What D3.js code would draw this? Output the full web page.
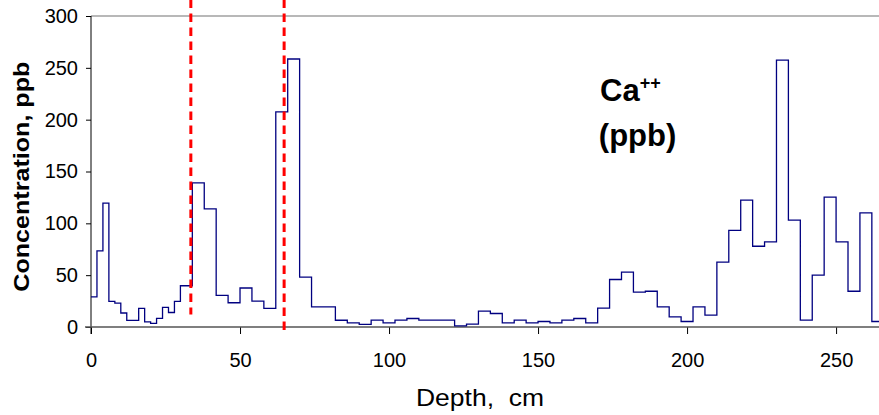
<!DOCTYPE html>
<html>
<head>
<meta charset="utf-8">
<script src="https://cdn.jsdelivr.net/npm/d3@7"></script>
<style>
  body { margin: 0; background: #fff; }
  svg { display: block; font-family: Arial, "Liberation Sans", sans-serif; }
</style>
</head>
<body>
<div id="chart"></div>
<script>
// top of each sample interval, cm
const depthTop = [0, 2, 4, 6, 8, 10, 12, 16, 18, 20, 22, 24, 26, 28, 30, 34, 38, 42, 46, 50,
  54, 58, 62, 66, 70, 74, 82, 86, 90, 94, 98, 102, 106, 110, 122, 126, 130, 134, 138, 142,
  146, 150, 154, 158, 162, 166, 170, 174, 178, 182, 186, 190, 194, 198, 202, 206, 210, 214,
  218, 222, 226, 230, 234, 238, 242, 246, 250, 254, 258, 262];
const depthEnd = 264.4;
// Ca++ concentration, ppb
const calcium = [29, 73.5, 119.5, 24.7, 23, 13.5, 6.4, 18, 5, 3.5, 8.3, 19, 14, 24.7, 39.8,
  139, 114, 30.5, 23.4, 37.6, 25, 18, 207.5, 258.5, 48.2, 19.4, 6.5, 4, 2.5, 6.6, 4, 6.6,
  8.2, 6.6, 1.1, 2.7, 15.3, 13, 4, 6.6, 4, 5.3, 4, 6.6, 8.2, 4, 18.2, 45.8, 52.9, 33.6,
  34.5, 19.5, 9.8, 5.3, 19.5, 11.4, 62.5, 93.3, 122.3, 77.9, 82.2, 257.5, 103, 6.6, 50,
  125.2, 82.2, 34.5, 110.1, 5.3];
const xTicks = [0, 50, 100, 150, 200, 250];
const yTicks = [0, 50, 100, 150, 200, 250, 300];
// red dashed markers: depth and vertical extent (ppb)
const markerDepth = [33.5, 64.8];
const markerLow = [12, -5];
const markerHigh = 316;

const width = 879, height = 415;
const margin = { top: 16, right: 0, bottom: 88, left: 91 };
const iwidth = width - margin.left - margin.right;
const iheight = height - margin.top - margin.bottom;

const svg = d3.select("#chart").append("svg")
  .attr("width", width)
  .attr("height", height);

const g = svg.append("g")
  .attr("transform", `translate(${margin.left},${margin.top})`);

const x = d3.scaleLinear().domain([0, depthEnd]).range([0, iwidth]);
const y = d3.scaleLinear().domain([0, 300]).range([iheight, 0]);

// top border
g.append("line")
  .attr("x1", 0).attr("x2", iwidth)
  .attr("y1", y(300)).attr("y2", y(300))
  .attr("stroke", "#a0a0a0").attr("stroke-width", 1.5);

// y axis
const yAxis = g.append("g")
  .call(d3.axisLeft(y).tickValues(yTicks).tickSize(5).tickPadding(8).tickSizeOuter(0));
yAxis.select(".domain").remove();
yAxis.append("line")
  .attr("x1", 0).attr("x2", 0)
  .attr("y1", y(300)).attr("y2", iheight + 7)
  .attr("stroke", "#000");
yAxis.selectAll("text").attr("font-size", 20).attr("fill", "#000")
  .attr("font-family", "Arial, 'Liberation Sans', sans-serif");

// x axis
const xAxis = g.append("g")
  .attr("transform", `translate(0,${iheight})`)
  .call(d3.axisBottom(x).tickValues(xTicks).tickSize(7).tickPadding(19).tickSizeOuter(0));
xAxis.select(".domain").remove();
xAxis.append("line")
  .attr("x1", -6).attr("x2", iwidth)
  .attr("stroke", "#555").attr("stroke-width", 1.5);
xAxis.selectAll("text").attr("font-size", 20).attr("fill", "#000")
  .attr("font-family", "Arial, 'Liberation Sans', sans-serif");

// step line
const pts = depthTop.map((d, i) => [d, calcium[i]]);
pts.push([depthEnd, calcium[calcium.length - 1]]);

const line = d3.line()
  .x(d => x(d[0]))
  .y(d => y(d[1]))
  .curve(d3.curveStepAfter);

g.append("path")
  .datum(pts)
  .attr("fill", "none")
  .attr("stroke", "#000080")
  .attr("stroke-width", 1.3)
  .attr("d", line);

// red dashed markers
g.selectAll(".marker")
  .data(markerDepth)
  .enter()
  .append("line")
  .attr("class", "marker")
  .attr("x1", d => x(d)).attr("x2", d => x(d))
  .attr("y1", y(markerHigh))
  .attr("y2", (d, i) => y(markerLow[i]))
  .attr("stroke", "#ff0000")
  .attr("stroke-width", 3)
  .attr("stroke-dasharray", "8.5,5.5");

// annotation
const note = g.append("text")
  .attr("x", x(170.8))
  .attr("y", y(218))
  .attr("font-size", 31)
  .attr("font-weight", "bold");
note.append("tspan").text("Ca");
note.append("tspan").attr("dy", -12).attr("font-size", 18).text("++");
g.append("text")
  .attr("x", x(170.4))
  .attr("y", y(174.6))
  .attr("font-size", 31)
  .attr("font-weight", "bold")
  .text("(ppb)");

// axis titles
svg.append("text")
  .attr("x", 416)
  .attr("y", 406)
  .attr("font-size", 24)
  .attr("textLength", 128)
  .attr("lengthAdjust", "spacingAndGlyphs")
  .style("white-space", "pre")
  .text("Depth,  cm");

svg.append("text")
  .attr("transform", `translate(29,${margin.top + y(145)}) rotate(-90)`)
  .attr("x", -115)
  .attr("font-size", 22)
  .attr("font-weight", "bold")
  .attr("textLength", 230)
  .attr("lengthAdjust", "spacingAndGlyphs")
  .text("Concentration, ppb");
</script>
</body>
</html>
